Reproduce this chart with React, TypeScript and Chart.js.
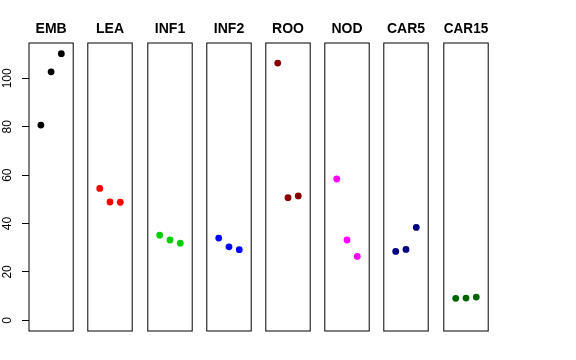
import React, { useEffect, useRef } from "react";
import { Chart, registerables } from "chart.js";

Chart.register(...registerables);

// ---- data ----
const panelNames = ["EMB", "LEA", "INF1", "INF2", "ROO", "NOD", "CAR5", "CAR15"];
const xPositions = [1, 2, 3];
const embValues = [80.7, 102.7, 110.2];
const leaValues = [54.5, 48.9, 48.8];
const inf1Values = [35.2, 33.2, 31.9];
const inf2Values = [34.0, 30.4, 29.2];
const rooValues = [106.3, 50.7, 51.4];
const nodValues = [58.4, 33.2, 26.4];
const car5Values = [28.5, 29.3, 38.4];
const car15Values = [9.1, 9.2, 9.6];
const panelValues = [embValues, leaValues, inf1Values, inf2Values, rooValues, nodValues, car5Values, car15Values];
const panelColors = ["#000000", "#FF0000", "#00CD00", "#0000FF", "#8B0000", "#FF00FF", "#000080", "#006400"];
const yTicks = [0, 20, 40, 60, 80, 100];

// ---- layout ----
const FONT = "'Liberation Sans', Arial, Helvetica, sans-serif";
const W = 576;
const H = 360;
const FIRST_LEFT = 29;
const STEP = 59.19;
const BOX_W = 44.4;
const CANVAS_W = 102;
const PADX = (CANVAS_W - BOX_W) / 2;

const boxPlugin = {
  id: "panelBox",
  afterDraw(chart: any) {
    const { ctx, chartArea } = chart;
    ctx.save();
    ctx.strokeStyle = "#000";
    ctx.lineWidth = 1;
    ctx.strokeRect(chartArea.left, chartArea.top, chartArea.right - chartArea.left, chartArea.bottom - chartArea.top);
    ctx.restore();
  },
};

function Panel({ index }: { index: number }) {
  const ref = useRef<HTMLCanvasElement | null>(null);
  const first = index === 0;
  useEffect(() => {
    if (!ref.current) return;
    const chart = new Chart(ref.current, {
      type: "scatter",
      data: {
        datasets: [
          {
            data: xPositions.map((x, j) => ({ x, y: panelValues[index][j] })),
            backgroundColor: panelColors[index],
            borderColor: panelColors[index],
            borderWidth: 0,
            pointRadius: 3.4,
          },
        ],
      },
      plugins: [boxPlugin],
      options: {
        animation: false,
        responsive: false,
        devicePixelRatio: 1,
        layout: {
          padding: { top: 0, bottom: 29, left: first ? 0 : PADX, right: PADX },
        },
        plugins: {
          legend: { display: false },
          tooltip: { enabled: false },
          title: {
            display: true,
            fullSize: false,
            text: panelNames[index],
            color: "#000",
            font: { family: FONT, size: 14, weight: "bold" },
            padding: { top: 20.4, bottom: 5.8 },
          },
        },
        scales: {
          x: { type: "linear", min: -0.16, max: 4.16, display: false },
          y: {
            type: "linear",
            min: -4.4,
            max: 114.6,
            display: first,
            afterBuildTicks: (scale: any) => {
              scale.ticks = yTicks.map((v) => ({ value: v }));
            },
            afterFit: (scale: any) => {
              scale.width = first ? FIRST_LEFT : 0;
            },
            border: { display: false },
            grid: { drawOnChartArea: false, drawTicks: true, tickLength: 7, color: "#000" },
            ticks: {
              color: "#000",
              font: { family: FONT, size: 12 },
              minRotation: 90,
              maxRotation: 90,
              crossAlign: "center",
              padding: 4,
            },
          },
        },
      },
    } as any);
    return () => chart.destroy();
  }, [index]);
  const left = first ? 0 : FIRST_LEFT + STEP * index + BOX_W / 2 - CANVAS_W / 2;
  const width = first ? FIRST_LEFT + BOX_W + PADX : CANVAS_W;
  return (
    <canvas
      ref={ref}
      width={width}
      height={H}
      style={{ position: "absolute", left, top: 0, width, height: H }}
    />
  );
}

export default function App() {
  return (
    <div style={{ position: "fixed", left: 0, top: 0, width: W, height: H, background: "#fff" }}>
      {panelNames.map((_, i) => (
        <Panel key={i} index={i} />
      ))}
    </div>
  );
}
